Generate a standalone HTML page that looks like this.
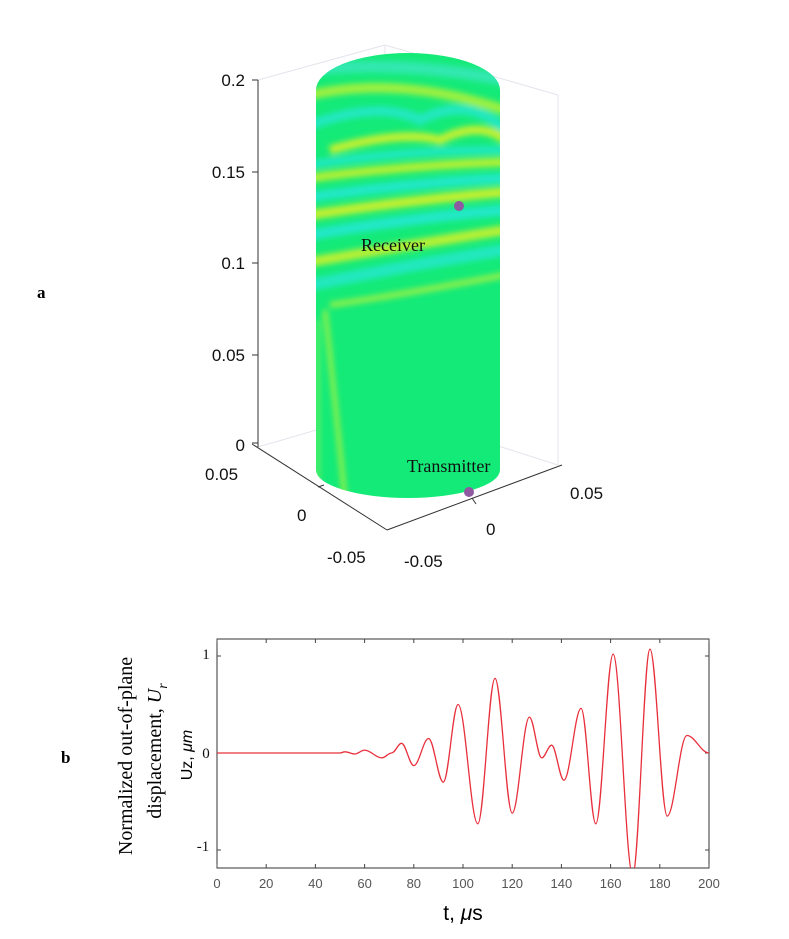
<!DOCTYPE html>
<html><head><meta charset="utf-8"><style>
html,body{margin:0;padding:0;background:#fff;}
svg{display:block}
</style></head><body>
<svg width="789" height="939" viewBox="0 0 789 939" xmlns="http://www.w3.org/2000/svg">
<defs>
<clipPath id="cyl"><path d="M316,90 A92,37 0 0 1 500,90 L500,470 A92,28 0 0 1 316,470 Z"/></clipPath>
<clipPath id="pb"><rect x="217" y="639" width="492" height="229"/></clipPath>
<filter id="bl"><feGaussianBlur stdDeviation="3"/></filter>
</defs>
<g stroke="#e4e4ec" stroke-width="1" fill="none">
<line x1="258" y1="80" x2="385" y2="45"/>
<line x1="385" y1="45" x2="558" y2="95"/>
<line x1="558" y1="95" x2="558" y2="465"/>
<line x1="258" y1="447" x2="385" y2="410"/>
<line x1="385" y1="410" x2="558" y2="465"/>
<line x1="385" y1="45" x2="385" y2="410"/>
</g>
<g clip-path="url(#cyl)">
<rect x="300" y="40" width="220" height="480" fill="#14ea78"/>
<g filter="url(#bl)">
<path d="M310,70 Q400,60 505,80" stroke="#30e8b0" stroke-width="12" fill="none"/>
<path d="M310,95 Q400,75 505,110" stroke="#9cf040" stroke-width="10" fill="none"/>
<path d="M310,125 Q380,100 420,120 Q470,95 505,130" stroke="#20e8c0" stroke-width="10" fill="none"/>
<path d="M330,150 Q400,130 440,140 Q480,120 505,140" stroke="#c0f030" stroke-width="9" fill="none"/>
<path d="M310,165 Q400,150 505,150" stroke="#20e8c0" stroke-width="8" fill="none"/>
<path d="M310,178 Q410,165 505,162" stroke="#b0f035" stroke-width="9" fill="none"/>
<path d="M310,197 Q410,183 505,178" stroke="#20e8c8" stroke-width="10" fill="none"/>
<path d="M310,215 Q410,200 505,192" stroke="#c0f030" stroke-width="10" fill="none"/>
<path d="M310,235 Q410,218 505,210" stroke="#20e8c8" stroke-width="11" fill="none"/>
<path d="M310,262 Q410,245 505,230" stroke="#b8f035" stroke-width="10" fill="none"/>
<path d="M310,285 Q410,265 505,250" stroke="#20e8c0" stroke-width="12" fill="none"/>
<path d="M330,305 Q400,295 505,275" stroke="#90f048" stroke-width="6" fill="none"/>
<path d="M325,310 Q335,400 345,500" stroke="#90f048" stroke-width="5" fill="none"/>
<path d="M318,320 L318,500" stroke="#60f060" stroke-width="4" fill="none"/>
</g>
</g>
<g stroke="#333" stroke-width="1" fill="none">
<line x1="258" y1="80" x2="258" y2="447"/>
<line x1="252" y1="80" x2="258" y2="80"/>
<line x1="252" y1="172" x2="258" y2="172"/>
<line x1="252" y1="263" x2="258" y2="263"/>
<line x1="252" y1="355" x2="258" y2="355"/>
<line x1="252" y1="443" x2="258" y2="443"/>
<line x1="252" y1="444" x2="387" y2="530"/>
<line x1="387" y1="530" x2="562" y2="465"/>
<line x1="318" y1="487" x2="324" y2="485"/>
<line x1="472" y1="498" x2="476" y2="504"/>
</g>
<g font-family="Liberation Sans, sans-serif" font-size="17" fill="#111">
<text x="245" y="86" text-anchor="end">0.2</text>
<text x="245" y="178" text-anchor="end">0.15</text>
<text x="245" y="269" text-anchor="end">0.1</text>
<text x="245" y="361" text-anchor="end">0.05</text>
<text x="245" y="451" text-anchor="end">0</text>
<text x="205" y="480">0.05</text>
<text x="297" y="521">0</text>
<text x="327" y="563">-0.05</text>
<text x="404" y="567">-0.05</text>
<text x="486" y="535">0</text>
<text x="570" y="499">0.05</text>
</g>
<circle cx="459" cy="206" r="5" fill="#8e5aa0"/>
<circle cx="469" cy="492" r="5" fill="#8e5aa0"/>
<g font-family="Liberation Serif, serif" font-size="18" fill="#111">
<text x="361" y="251">Receiver</text>
<text x="407" y="472">Transmitter</text>
</g>
<text x="37" y="298" font-family="Liberation Serif, serif" font-weight="bold" font-size="17">a</text>
<text x="61" y="763" font-family="Liberation Serif, serif" font-weight="bold" font-size="17">b</text>

<rect x="217" y="639" width="492" height="229" fill="none" stroke="#333" stroke-width="1"/>
<g stroke="#444" stroke-width="1">
<path d="M217,868v-4M266.2,868v-4M315.4,868v-4M364.6,868v-4M413.8,868v-4M463,868v-4M512.2,868v-4M561.4,868v-4M610.6,868v-4M659.8,868v-4M709,868v-4
M217,639v4M266.2,639v4M315.4,639v4M364.6,639v4M413.8,639v4M463,639v4M512.2,639v4M561.4,639v4M610.6,639v4M659.8,639v4M709,639v4
M217,656h4M217,753h4M217,850h4M709,656h-4M709,753h-4M709,850h-4"/>
</g>
<path clip-path="url(#pb)" fill="none" stroke="#e8303c" stroke-width="1.3" d="M217,753 L340,753
C341.8,753 343.1,751.8 344.9,751.8
C348.5,751.8 351.2,754 354.8,754
C358.3,754 361.1,750.1 364.6,750.1
C370.8,750.1 375.6,757.9 381.8,757.9
C385.4,757.9 388.1,753 391.7,753
C395.2,753 398,743.3 401.5,743.3
C405.9,743.3 409.4,765.6 413.8,765.6
C419.1,765.6 423.3,738.5 428.6,738.5
C433.9,738.5 438,782.1 443.3,782.1
C448.6,782.1 452.8,704.5 458.1,704.5
C465.2,704.5 470.7,823.8 477.8,823.8
C484,823.8 488.8,678.3 495,678.3
C501.2,678.3 506,813.1 512.2,813.1
C518.4,813.1 523.2,717.1 529.4,717.1
C533.8,717.1 537.3,757.9 541.7,757.9
C545.3,757.9 548,745.2 551.6,745.2
C556,745.2 559.5,780.2 563.9,780.2
C570.1,780.2 574.9,708.4 581.1,708.4
C586.4,708.4 590.5,823.8 595.8,823.8
C602,823.8 606.9,654.1 613.1,654.1
C620.2,654.1 625.6,874.3 632.7,874.3
C638.9,874.3 643.8,649.2 650,649.2
C656.2,649.2 661,816.1 667.2,816.1
C674.3,816.1 679.8,735.5 686.9,735.5
C694.9,735.5 701,753 709,753"/>
<g font-family="Liberation Sans, sans-serif" font-size="13" fill="#555" text-anchor="middle">
<text x="217" y="888">0</text><text x="266.2" y="888">20</text><text x="315.4" y="888">40</text><text x="364.6" y="888">60</text><text x="413.8" y="888">80</text><text x="463" y="888">100</text><text x="512.2" y="888">120</text><text x="561.4" y="888">140</text><text x="610.6" y="888">160</text><text x="659.8" y="888">180</text><text x="709" y="888">200</text>
</g>
<g font-family="Liberation Serif, serif" font-size="15" fill="#111" text-anchor="middle">
<text x="206" y="659">1</text>
<text x="206" y="758">0</text>
<text x="203" y="851">-1</text>
</g>
<text x="463" y="920" font-family="Liberation Sans, sans-serif" font-size="21" text-anchor="middle">t, <tspan font-style="italic">μ</tspan>s</text>
<text transform="translate(192,755) rotate(-90)" font-family="Liberation Sans, sans-serif" font-size="16" text-anchor="middle">Uz, <tspan font-style="italic">μm</tspan></text>
<text transform="translate(132,756) rotate(-90)" font-family="Liberation Serif, serif" font-size="20" text-anchor="middle">Normalized out-of-plane</text>
<text transform="translate(161,751) rotate(-90)" font-family="Liberation Serif, serif" font-size="20" text-anchor="middle">displacement, <tspan font-style="italic">U</tspan><tspan font-style="italic" font-size="14" dy="6">r</tspan></text>
</svg>
</body></html>
